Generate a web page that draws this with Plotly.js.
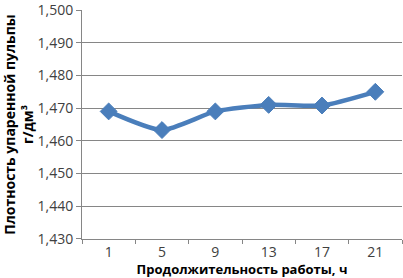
<!DOCTYPE html>
<html><head><meta charset="utf-8">
<script src="https://cdn.plot.ly/plotly-3.0.1.min.js"></script>
<style>html,body{margin:0;padding:0;background:#fff;}#c{width:403px;height:278px;}</style>
</head><body><div id="c"></div>
<script>
const categories = ['1','5','9','13','17','21'];
const density = [1.469, 1.4633, 1.469, 1.471, 1.4708, 1.475];
const yTicks = [1.430,1.440,1.450,1.460,1.470,1.480,1.490,1.500];
const yTickText = ['1,430','1,440','1,450','1,460','1,470','1,480','1,490','1,500'];

const trace = {
  x: categories, y: density, type: 'scatter', mode: 'lines+markers',
  line: {color: '#4A7EBB', width: 4.5, shape: 'spline', smoothing: 0.6},
  marker: {symbol: 'diamond', size: 13, color: '#4A7EBB', line: {color: '#4A7EBB', width: 1}},
  hoverinfo: 'none', cliponaxis: false
};
const font = {family: '"Open Sans", "Noto Sans", "Liberation Sans", sans-serif', color: '#404040'};
const layout = {
  width: 403, height: 278,
  margin: {l: 82, r: 1, t: 10, b: 39},
  paper_bgcolor: '#fff', plot_bgcolor: '#fff',
  showlegend: false,
  font: font,
  xaxis: {
    type: 'category', tickson: 'boundaries', ticks: 'outside', ticklen: 4, tickcolor: '#868686',
    showgrid: false, showline: true, linecolor: '#868686', linewidth: 1,
    tickfont: {size: 14, color: '#404040'},
    title: {text: '<b>Продолжительность работы, ч</b>', font: {size: 13, color: '#000'}, standoff: 0},
    range: [-0.5, 5.5], fixedrange: true
  },
  yaxis: {
    range: [1.42999, 1.50001], tickvals: yTicks, ticktext: yTickText,
    ticklabeloverflow: 'allow',
    ticks: 'outside', ticklen: 5, tickcolor: '#868686',
    showgrid: true, gridcolor: '#868686', gridwidth: 1,
    showline: true, linecolor: '#868686', linewidth: 1, zeroline: false,
    tickfont: {size: 14, color: '#404040'},
    title: {text: '<b>Плотность упаренной пульпы<br>г/дм³</b>', font: {size: 14, color: '#000'}, standoff: 6},
    fixedrange: true
  }
};
Plotly.newPlot('c', [trace], layout, {displayModeBar: false, staticPlot: true});
</script></body></html>
